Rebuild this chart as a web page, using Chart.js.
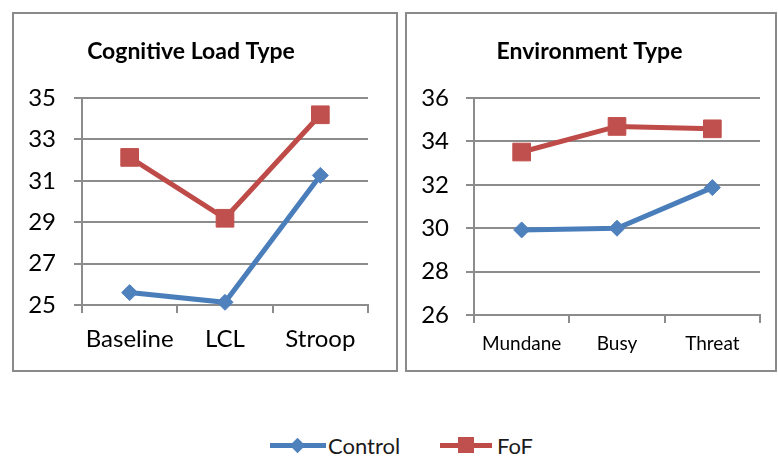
<!DOCTYPE html>
<html>
<head>
<meta charset="utf-8">
<script src="https://cdn.jsdelivr.net/npm/chart.js"></script>
<style>
  body { margin: 0; background: #fff; width: 778px; height: 458px; position: relative; overflow: hidden; font-family: Lato, "Open Sans", sans-serif; }
  .panel { position: absolute; top: 12px; height: 360px; border: 2px solid #8a8a8a; box-sizing: border-box; }
  #p1 { left: 12px; width: 386px; }
  #p2 { left: 405px; width: 372px; }
  .legend { position: absolute; top: 432px; height: 28px; font-size: 22px; color: #1a1a1a; }
  .legend .ln { position: absolute; top: 11px; height: 5px; }
  .legend .txt { position: absolute; top: 0px; white-space: nowrap; }
</style>
</head>
<body>
<div class="panel" id="p1"><canvas id="c1"></canvas></div>
<div class="panel" id="p2"><canvas id="c2"></canvas></div>

<div class="legend" style="left:270px;width:150px">
  <div class="ln" style="left:0;width:56px;background:#4a7ebb"></div>
  <div style="position:absolute;left:22px;top:8px;width:11px;height:11px;background:#4f81bd;transform:rotate(45deg)"></div>
  <div class="txt" style="left:58px">Control</div>
</div>
<div class="legend" style="left:440px;width:120px">
  <div class="ln" style="left:0;width:52px;background:#be4b48"></div>
  <div style="position:absolute;left:18px;top:5px;width:16px;height:16px;background:#c0504d"></div>
  <div class="txt" style="left:57px">FoF</div>
</div>

<script>
// Cognitive load panel
const loadTypes = ["Baseline", "LCL", "Stroop"];
const loadControl = [25.6, 25.13, 31.26];
const loadFoF = [32.13, 29.19, 34.19];

// Environment panel
const envTypes = ["Mundane", "Busy", "Threat"];
const envControl = [29.92, 30.0, 31.87];
const envFoF = [33.51, 34.69, 34.58];

const gridGray = "#8c8c8c";

function series(control, fof) {
  return [
    {
      label: "Control",
      data: control,
      borderColor: "#4a7ebb",
      backgroundColor: "#4f81bd",
      borderWidth: 5,
      pointStyle: "rectRot",
      pointRadius: 8,
      pointBackgroundColor: "#4f81bd",
      pointBorderColor: "#4f81bd",
      pointBorderWidth: 1,
      tension: 0,
      clip: false,
    },
    {
      label: "FoF",
      data: fof,
      borderColor: "#be4b48",
      backgroundColor: "#c0504d",
      borderWidth: 5,
      pointStyle: "rect",
      pointRadius: 12.5,
      pointBackgroundColor: "#c0504d",
      pointBorderColor: "#c0504d",
      pointBorderWidth: 1,
      tension: 0,
      clip: false,
    },
  ];
}

function makeChart(id, o) {
  return new Chart(document.getElementById(id), {
    type: "line",
    data: { labels: o.labels, datasets: series(o.control, o.fof) },
    options: {
      responsive: true,
      maintainAspectRatio: false,
      animation: false,
      layout: { padding: { left: o.padLeft, right: o.padRight, top: 0, bottom: 0 } },
      plugins: {
        legend: { display: false },
        tooltip: { enabled: false },
        title: {
          display: true,
          text: o.title,
          color: "#000",
          font: { family: "Lato", size: 23, weight: "bold" },
          padding: { top: 24, bottom: 32.4 },
        },
      },
      scales: {
        x: {
          offset: true,
          grid: { offset: true, drawOnChartArea: false, drawTicks: true, tickLength: 8, color: gridGray, lineWidth: 2 },
          border: { display: true, color: gridGray, width: 2 },
          ticks: { color: "#000", font: { family: "Lato", size: o.xFont }, padding: o.xPad, maxRotation: 0 },
          afterFit: s => { s.height = o.xHeight; },
        },
        y: {
          min: o.min,
          max: o.max,
          grid: { color: gridGray, lineWidth: 2, tickLength: 8 },
          border: { display: true, color: gridGray, width: 2 },
          ticks: { stepSize: 2, color: "#000", font: { family: "Lato", size: 24 }, padding: o.yPad },
          afterFit: s => { s.width = o.yWidth; },
        },
      },
    },
  });
}

makeChart("c1", {
  labels: loadTypes, control: loadControl, fof: loadFoF, title: "Cognitive Load Type",
  min: 25, max: 35, padLeft: 0, padRight: 28, yWidth: 68, yPad: 18,
  xFont: 24, xPad: 12, xHeight: 65,
});

makeChart("c2", {
  labels: envTypes, control: envControl, fof: envFoF, title: "Environment Type",
  min: 26, max: 36, padLeft: 12, padRight: 15, yWidth: 55, yPad: 17,
  xFont: 19, xPad: 9, xHeight: 55,
});
</script>
</body>
</html>
